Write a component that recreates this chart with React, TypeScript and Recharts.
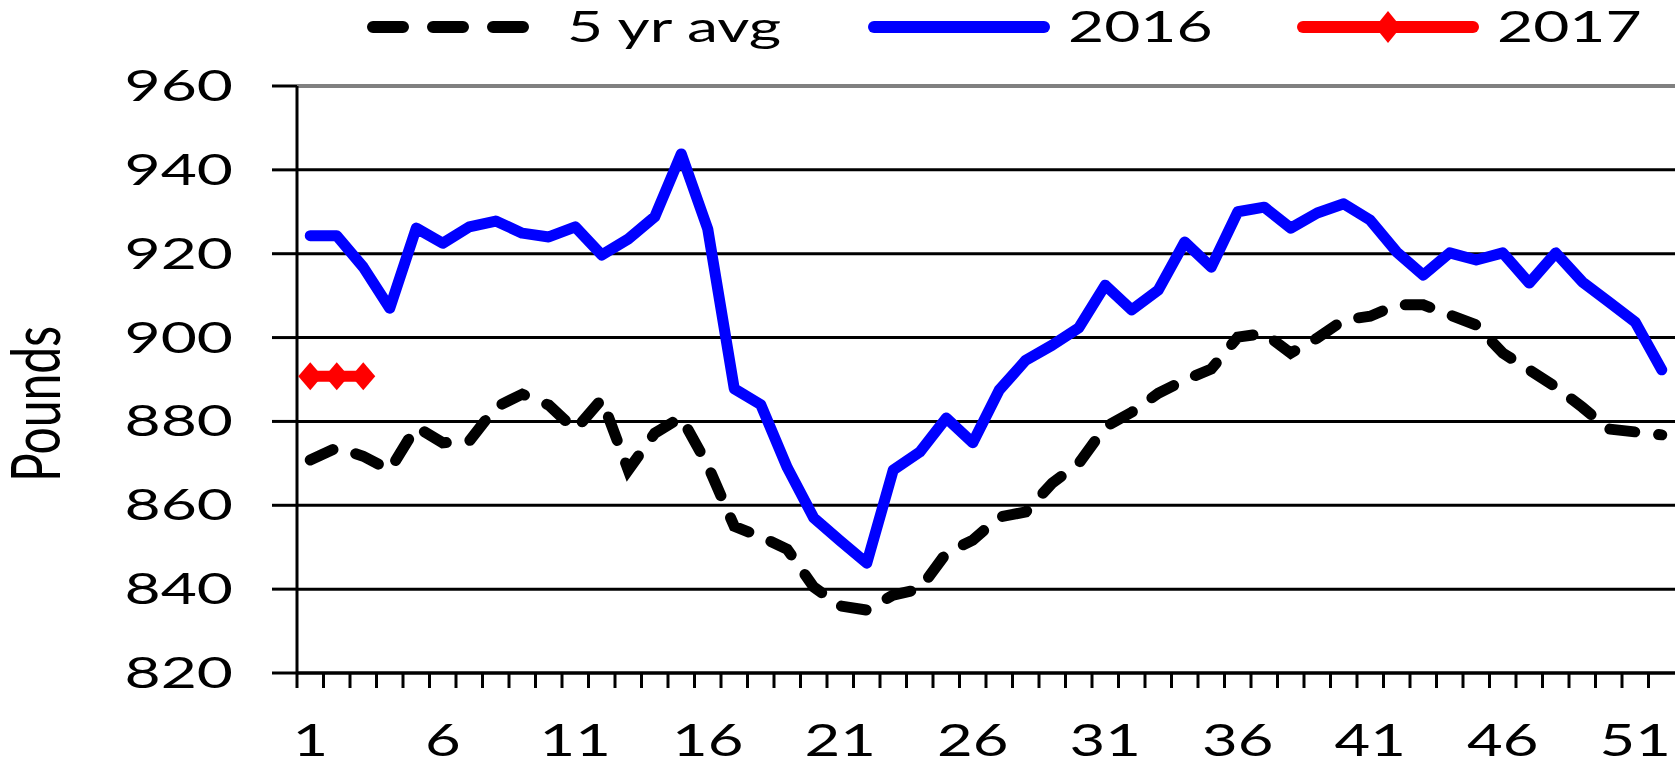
import React from "react";
import { LineChart, Line, XAxis, YAxis, CartesianGrid, Legend, ReferenceLine } from "recharts";

document.body.style.margin = "0";

const weeks = Array.from({ length: 52 }, (_, i) => i + 1);

const avg5 = [
  870.8, 873.7, 871.7, 868.4, 878.7, 874.9, 875.3, 883.4, 886.5, 883.9,
  878.0, 885.3, 868.4, 877.2, 881.0, 869.5, 855.0, 852.5, 849.5, 840.5,
  836.0, 835.0, 838.6, 840.0, 848.6, 851.7, 857.2, 858.4, 865.3, 870.0,
  878.7, 882.2, 886.7, 889.9, 892.5, 900.1, 901.0, 896.3, 899.9, 904.2,
  905.1, 907.8, 907.8, 905.4, 903.0, 896.3, 892.3, 888.2, 883.4, 878.2,
  877.5, 876.8,
];

const y2016 = [
  924.3, 924.3, 916.8, 907.0, 926.1, 922.5, 926.4, 927.8, 924.9, 924.0,
  926.4, 919.7, 923.5, 928.8, 943.8, 925.9, 887.8, 884.0, 869.0, 857.0,
  851.5, 846.2, 868.4, 872.7, 880.8, 874.9, 887.5, 894.6, 898.2, 902.3,
  912.5, 906.6, 911.3, 922.8, 916.8, 930.0, 931.1, 926.1, 929.7, 931.9,
  928.0, 920.4, 914.9, 920.2, 918.5, 920.2, 913.0, 920.2, 913.3, 908.5,
  903.7, 892.3,
];

const y2017 = [890.8, 890.8, 890.8];

const yTicks = [820, 840, 860, 880, 900, 920, 940, 960];
const xLabels = [1, 6, 11, 16, 21, 26, 31, 36, 41, 46, 51];

const data = weeks.map((w, i) => ({
  week: w,
  avg5: avg5[i],
  y2016: y2016[i],
  y2017: i < y2017.length ? y2017[i] : null,
}));

// tick marks sit between the weeks, like the Excel original
const boundaries = weeks.map((w) => w - 0.5);

const W = 1675;
const H = 762;
const Y_AXIS_W = 297;
const X_AXIS_H = 89;
const HALF_BAND = (W - Y_AXIS_W) / weeks.length / 2;

const FONT = "Lato, 'Liberation Sans', sans-serif";
const STRETCH = 1.45;
const RED = "#FF0000";

const XTick = ({ x, y, payload }: any) => {
  const wk = payload.value + 0.5;
  if (!xLabels.includes(wk)) return <g />;
  return (
    <text
      transform={`translate(${x + HALF_BAND},${y + 68}) scale(1.4,1)`}
      textAnchor="middle"
      fontSize={44}
      fontFamily={FONT}
      fill="#000"
    >
      {wk}
    </text>
  );
};

const YTick = ({ x, y, payload }: any) => (
  <text
    transform={`translate(${x},${y + 15}) scale(${STRETCH},1)`}
    textAnchor="end"
    fontSize={43}
    fontFamily={FONT}
    fill="#000"
  >
    {payload.value}
  </text>
);

const PoundsLabel = () => (
  <text
    transform={`translate(60,404) scale(1.4,1) rotate(-90)`}
    textAnchor="middle"
    fontSize={48}
    fontFamily={FONT}
    fill="#000"
  >
    Pounds
  </text>
);

const Diamond = ({ cx, cy, w = 12, h = 14 }: any) => {
  if (cx == null || cy == null) return null;
  return (
    <polygon
      points={`${cx},${cy - h} ${cx + w},${cy} ${cx},${cy + h} ${cx - w},${cy}`}
      fill={RED}
    />
  );
};

const legendItems: Record<string, { x: number; dash?: string; marker?: boolean }> = {
  avg5: { x: 367, dash: "30 30" },
  y2016: { x: 868 },
  y2017: { x: 1297, marker: true },
};
const LEGEND_LINE = 182;
const LEGEND_Y = 27;

const renderLegend = ({ payload }: any) => (
  <svg width={W} height={60}>
    {(payload || []).map((p: any) => {
      const item = legendItems[p.dataKey];
      if (!item) return null;
      return (
        <g key={p.dataKey}>
          <line
            x1={item.x + 6}
            x2={item.x + (item.dash ? 160 : LEGEND_LINE - 6)}
            y1={LEGEND_Y}
            y2={LEGEND_Y}
            stroke={p.color}
            strokeWidth={12}
            strokeLinecap="round"
            strokeDasharray={item.dash}
          />
          {item.marker && <Diamond cx={item.x + LEGEND_LINE / 2} cy={LEGEND_Y} w={13} h={16} />}
          <text
            transform={`translate(${item.x + LEGEND_LINE + 18},${LEGEND_Y + 15}) scale(${STRETCH},1)`}
            fontSize={43}
            fontFamily={FONT}
            fill="#000"
          >
            {p.value}
          </text>
        </g>
      );
    })}
  </svg>
);

export default function App() {
  return (
    <div style={{ width: W, height: H, background: "#fff", position: "relative" }}>
      <LineChart width={W} height={H} data={data} margin={{ top: 86, right: 0, bottom: 0, left: 0 }}>
        <CartesianGrid vertical={false} stroke="#000" strokeWidth={3} />
        <ReferenceLine y={960} stroke="#808080" strokeWidth={4} />
        <XAxis
          type="number"
          dataKey="week"
          domain={[0.5, 52.5]}
          ticks={boundaries}
          interval={0}
          height={X_AXIS_H}
          tickSize={15}
          tickMargin={0}
          tickLine={{ stroke: "#000", strokeWidth: 3 }}
          axisLine={{ stroke: "#000", strokeWidth: 3 }}
          tick={<XTick />}
          allowDataOverflow
        />
        <YAxis
          domain={[820, 960]}
          ticks={yTicks}
          interval={0}
          width={Y_AXIS_W}
          tickSize={25}
          tickMargin={39}
          tickLine={{ stroke: "#000", strokeWidth: 3 }}
          axisLine={{ stroke: "#000", strokeWidth: 3 }}
          tick={<YTick />}
          label={{ value: "Pounds", content: PoundsLabel }}
        />
        <Legend
          verticalAlign="middle"
          layout="horizontal"
          content={renderLegend}
          wrapperStyle={{ position: "absolute", top: 0, left: 0, width: W, height: 60 }}
        />
        <Line
          dataKey="avg5"
          name="5 yr avg"
          stroke="#000"
          strokeWidth={11}
          strokeDasharray="25 24"
          strokeLinecap="round"
          dot={false}
          isAnimationActive={false}
        />
        <Line
          dataKey="y2016"
          name="2016"
          stroke="#0000FF"
          strokeWidth={11}
          strokeLinejoin="round"
          strokeLinecap="round"
          dot={false}
          isAnimationActive={false}
        />
        <Line
          dataKey="y2017"
          name="2017"
          stroke={RED}
          strokeWidth={11}
          strokeLinecap="round"
          dot={<Diamond />}
          isAnimationActive={false}
        />
      </LineChart>
    </div>
  );
}
